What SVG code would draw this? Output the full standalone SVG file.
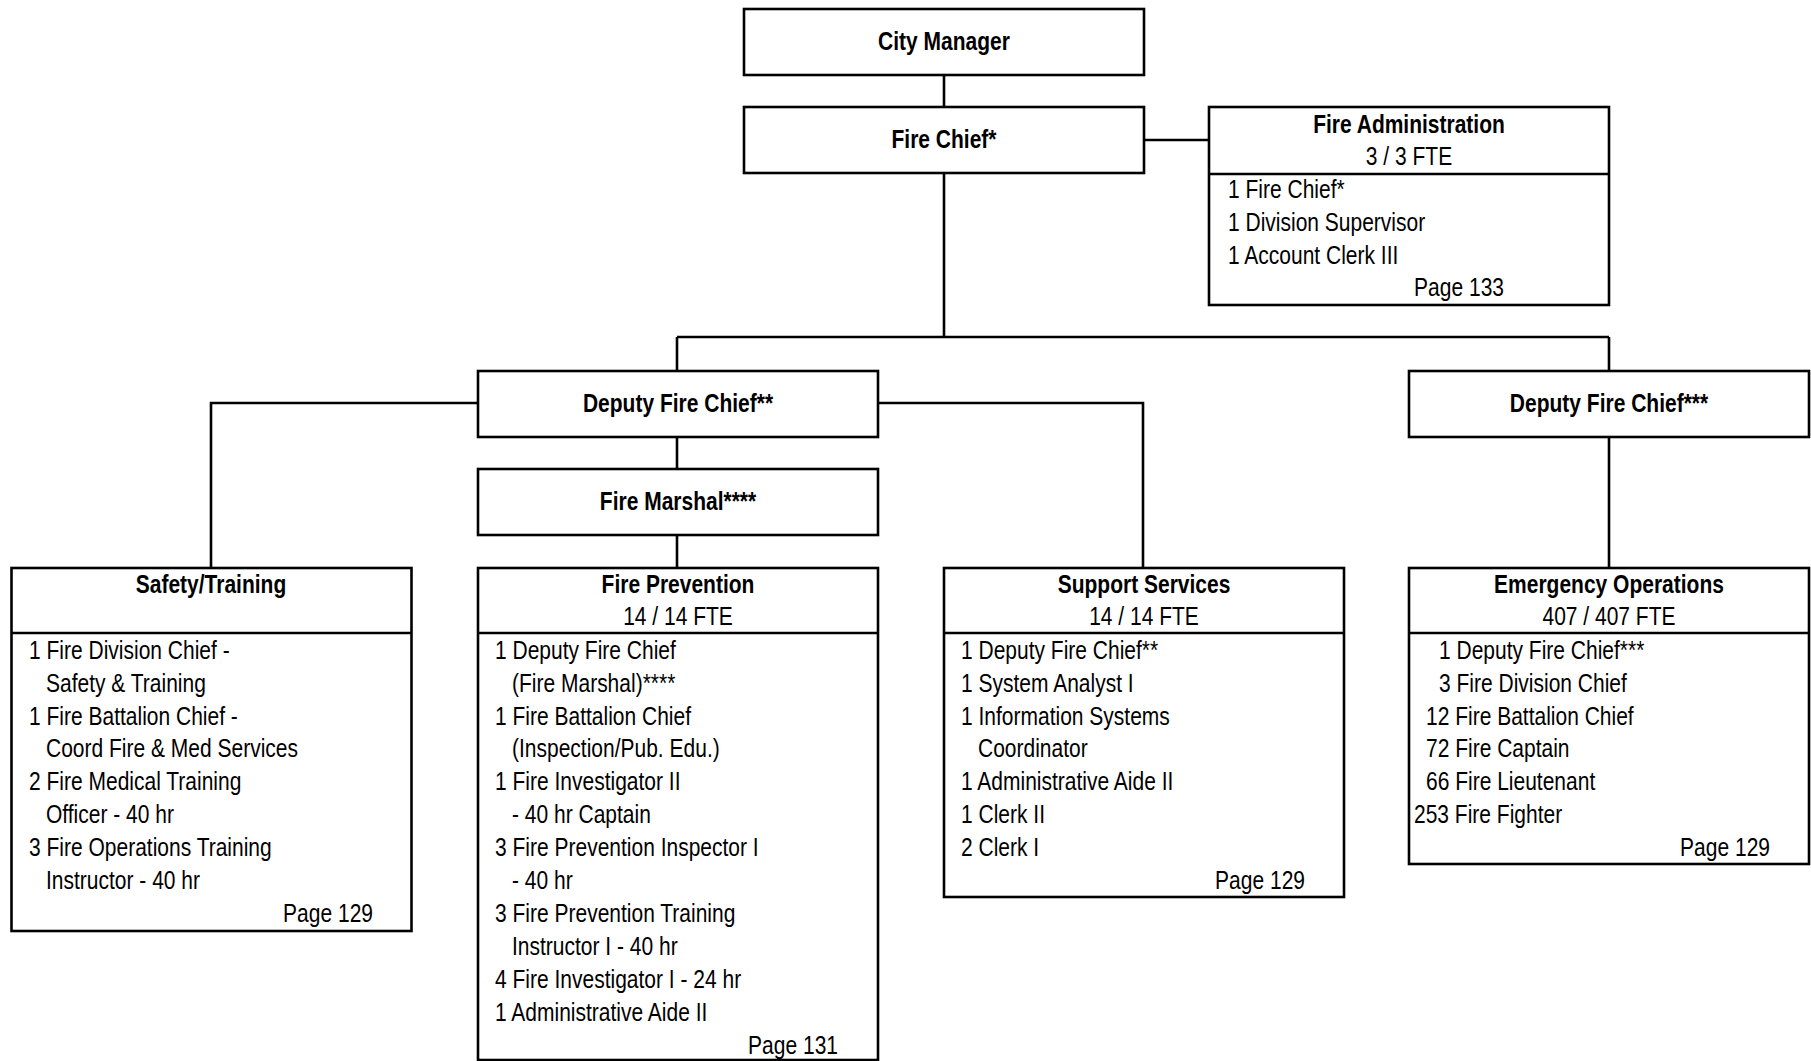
<svg xmlns="http://www.w3.org/2000/svg" width="1811" height="1061" viewBox="0 0 1811 1061">
<style>
.box{fill:#fff;stroke:#000;stroke-width:2.6}
.ln{fill:none;stroke:#000;stroke-width:2.6}
text{font-family:"Liberation Sans",Arial,sans-serif;font-size:25px;fill:#000}
.b{font-weight:bold;text-anchor:middle}
.c{text-anchor:middle}
.r{text-anchor:end}
</style>
<rect width="1811" height="1061" fill="#fff"/>
<g id="connectors">
<path class="ln" d="M944 75V107"/>
<path class="ln" d="M1144 140H1209"/>
<path class="ln" d="M944 173V337M677 337H1609M677 337V371M1609 337V371"/>
<path class="ln" d="M478 403H211V568"/>
<path class="ln" d="M878 403H1143V568"/>
<path class="ln" d="M677 437V469"/>
<path class="ln" d="M677 535V568"/>
<path class="ln" d="M1609 437V568"/>
</g>
<g id="city-manager">
<rect class="box" x="744" y="9" width="400" height="66"/>
<text class="b" transform="translate(944 50) scale(.84 1)">City Manager</text>
</g>
<g id="fire-chief">
<rect class="box" x="744" y="107" width="400" height="66"/>
<text class="b" transform="translate(944 148) scale(.84 1)">Fire Chief*</text>
</g>
<g id="fire-administration">
<rect class="box" x="1209" y="107" width="400" height="198"/>
<path class="ln" d="M1209 174H1609"/>
<text class="b" transform="translate(1409 133) scale(.84 1)">Fire Administration</text>
<text class="c" transform="translate(1409 165) scale(.84 1)">3 / 3 FTE</text>
<text transform="translate(1228 198) scale(.84 1)">1 Fire Chief*</text>
<text transform="translate(1228 231) scale(.84 1)">1 Division Supervisor</text>
<text transform="translate(1228 264) scale(.84 1)">1 Account Clerk III</text>
<text class="r" transform="translate(1504 296) scale(.84 1)">Page 133</text>
</g>
<g id="deputy-fire-chief-2">
<rect class="box" x="478" y="371" width="400" height="66"/>
<text class="b" transform="translate(678 412) scale(.84 1)">Deputy Fire Chief**</text>
</g>
<g id="fire-marshal">
<rect class="box" x="478" y="469" width="400" height="66"/>
<text class="b" transform="translate(678 510) scale(.84 1)">Fire Marshal****</text>
</g>
<g id="deputy-fire-chief-3">
<rect class="box" x="1409" y="371" width="400" height="66"/>
<text class="b" transform="translate(1609 412) scale(.84 1)">Deputy Fire Chief***</text>
</g>
<g id="safety-training">
<rect class="box" x="11.5" y="568" width="400" height="363"/>
<path class="ln" d="M11.5 633H411.5"/>
<text class="b" transform="translate(211 593) scale(.84 1)">Safety/Training</text>
<text transform="translate(29 659) scale(.84 1)">1 Fire Division Chief -</text>
<text transform="translate(46 692) scale(.84 1)">Safety &amp; Training</text>
<text transform="translate(29 725) scale(.84 1)">1 Fire Battalion Chief -</text>
<text transform="translate(46 757) scale(.84 1)">Coord Fire &amp; Med Services</text>
<text transform="translate(29 790) scale(.84 1)">2 Fire Medical Training</text>
<text transform="translate(46 823) scale(.84 1)">Officer - 40 hr</text>
<text transform="translate(29 856) scale(.84 1)">3 Fire Operations Training</text>
<text transform="translate(46 889) scale(.84 1)">Instructor - 40 hr</text>
<text class="r" transform="translate(373 922) scale(.84 1)">Page 129</text>
</g>
<g id="fire-prevention">
<rect class="box" x="478" y="568" width="400" height="492"/>
<path class="ln" d="M478 633H878"/>
<text class="b" transform="translate(678 593) scale(.84 1)">Fire Prevention</text>
<text class="c" transform="translate(678 625) scale(.84 1)">14 / 14 FTE</text>
<text transform="translate(495 659) scale(.84 1)">1 Deputy Fire Chief</text>
<text transform="translate(512 692) scale(.84 1)">(Fire Marshal)****</text>
<text transform="translate(495 725) scale(.84 1)">1 Fire Battalion Chief</text>
<text transform="translate(512 757) scale(.84 1)">(Inspection/Pub. Edu.)</text>
<text transform="translate(495 790) scale(.84 1)">1 Fire Investigator II</text>
<text transform="translate(512 823) scale(.84 1)">- 40 hr Captain</text>
<text transform="translate(495 856) scale(.84 1)">3 Fire Prevention Inspector I</text>
<text transform="translate(512 889) scale(.84 1)">- 40 hr</text>
<text transform="translate(495 922) scale(.84 1)">3 Fire Prevention Training</text>
<text transform="translate(512 955) scale(.84 1)">Instructor I - 40 hr</text>
<text transform="translate(495 988) scale(.84 1)">4 Fire Investigator I - 24 hr</text>
<text transform="translate(495 1021) scale(.84 1)">1 Administrative Aide II</text>
<text class="r" transform="translate(838 1054) scale(.84 1)">Page 131</text>
</g>
<g id="support-services">
<rect class="box" x="944" y="568" width="400" height="329"/>
<path class="ln" d="M944 633H1344"/>
<text class="b" transform="translate(1144 593) scale(.84 1)">Support Services</text>
<text class="c" transform="translate(1144 625) scale(.84 1)">14 / 14 FTE</text>
<text transform="translate(961 659) scale(.84 1)">1 Deputy Fire Chief**</text>
<text transform="translate(961 692) scale(.84 1)">1 System Analyst I</text>
<text transform="translate(961 725) scale(.84 1)">1 Information Systems</text>
<text transform="translate(978 757) scale(.84 1)">Coordinator</text>
<text transform="translate(961 790) scale(.84 1)">1 Administrative Aide II</text>
<text transform="translate(961 823) scale(.84 1)">1 Clerk II</text>
<text transform="translate(961 856) scale(.84 1)">2 Clerk I</text>
<text class="r" transform="translate(1305 889) scale(.84 1)">Page 129</text>
</g>
<g id="emergency-operations">
<rect class="box" x="1409" y="568" width="400" height="296"/>
<path class="ln" d="M1409 633H1809"/>
<text class="b" transform="translate(1609 593) scale(.84 1)">Emergency Operations</text>
<text class="c" transform="translate(1609 625) scale(.84 1)">407 / 407 FTE</text>
<text transform="translate(1439 659) scale(.84 1)">1 Deputy Fire Chief***</text>
<text transform="translate(1439 692) scale(.84 1)">3 Fire Division Chief</text>
<text transform="translate(1426 725) scale(.84 1)">12 Fire Battalion Chief</text>
<text transform="translate(1426 757) scale(.84 1)">72 Fire Captain</text>
<text transform="translate(1426 790) scale(.84 1)">66 Fire Lieutenant</text>
<text transform="translate(1414 823) scale(.84 1)">253 Fire Fighter</text>
<text class="r" transform="translate(1770 856) scale(.84 1)">Page 129</text>
</g>
</svg>
